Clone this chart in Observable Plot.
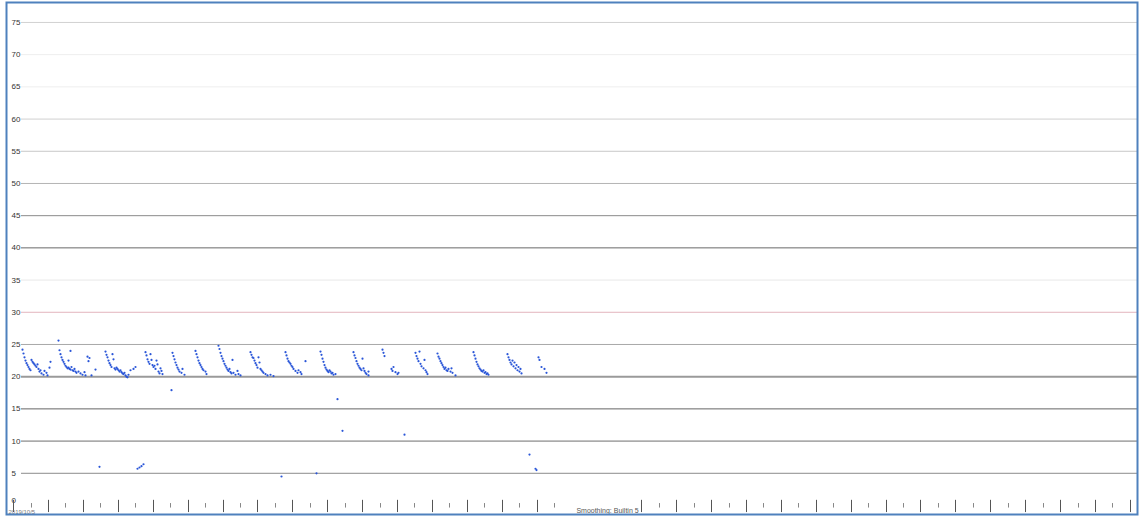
<!DOCTYPE html>
<html><head><meta charset="utf-8">
<script src="https://cdn.jsdelivr.net/npm/d3@7"></script>
<script src="https://cdn.jsdelivr.net/npm/@observablehq/plot@0.6"></script>
<style>body{margin:0;background:#fff;overflow:hidden}</style>
</head><body><div id="chart"></div>
<script>
// sample time (x, chart units) and reading value (y)
const readingX = [
 22,23,24,25,26,27,28,29,30,31,32,33,34,35,36,37,38,39,40,41,43,44,46,47,49,50,
 58,59,60,61,62,63,64,65,66,67,68,68,69,70,70,71,72,73,74,75,76,78,80,82,84,85,87,88,89,91,95,
 105,106,107,108,109,110,111,112,113,114,115,116,117,118,119,120,121,122,123,124,125,126,127,128,130,133,135,
 145,146,147,148,149,150,151,152,153,154,155,156,157,158,159,160,161,162,
 172,173,174,175,176,177,178,179,181,182,184,
 195,196,197,198,199,200,201,202,203,205,206,
 218,219,220,221,222,223,224,225,226,227,228,229,230,231,232,233,235,237,238,240,
 250,251,252,253,254,255,256,257,258,259,260,261,262,263,265,267,270,273,
 285,286,287,288,289,290,291,292,293,295,297,298,300,301,305,
 320,321,322,323,324,325,326,327,328,329,330,331,332,333,335,
 353,354,355,356,357,358,359,360,361,362,363,364,365,366,368,368,
 382,383,384,391,392,393,395,397,398,
 415,416,417,418,419,420,421,423,424,425,426,427,
 437,438,439,440,441,442,443,444,445,446,447,448,450,451,452,455,
 473,474,475,476,477,478,479,480,481,482,483,484,485,486,487,488,
 507,508,509,510,511,512,513,514,515,516,517,518,519,520,521,
 538,539,541,544,546,
 99,137,139,141,143,171,281,316,337,342,404,529,535,536
];
const readingY = [
 24.2,23.6,23.0,22.5,22.1,21.8,21.5,21.2,21.0,22.6,22.3,22.1,21.9,21.7,21.5,21.9,21.2,20.8,21.0,20.5,20.3,20.9,20.6,20.2,21.4,22.3,
 25.6,24.1,23.5,23.0,22.6,22.3,22.0,21.7,21.5,21.3,21.4,22.5,21.2,21.1,24.0,21.5,21.0,20.9,21.2,20.8,20.6,20.8,20.5,20.3,20.7,20.2,23.1,22.4,22.9,20.2,21.1,
 23.9,23.4,23.0,22.5,22.1,21.8,21.5,23.5,22.7,21.3,21.1,21.4,21.2,21.0,20.8,21.0,20.7,20.5,20.4,20.6,20.2,20.0,19.9,20.3,21.0,21.2,21.5,
 23.8,23.3,22.7,22.3,22.0,23.5,22.6,21.8,21.5,21.7,21.2,22.5,21.9,20.8,20.5,21.3,20.9,20.4,
 23.7,23.2,22.7,22.2,21.8,21.4,21.1,20.8,20.6,21.2,20.3,
 24.0,23.5,23.0,22.5,22.1,21.8,21.5,21.2,21.0,20.8,20.4,
 24.8,24.3,23.7,23.2,22.8,22.4,22.0,21.7,21.4,21.1,20.9,21.2,20.7,20.5,22.6,20.6,20.3,20.9,20.4,20.2,
 23.8,23.4,23.0,22.9,22.5,22.1,21.8,21.4,23.0,22.2,21.2,21.0,20.8,20.6,20.4,20.2,20.3,20.1,
 23.8,23.3,22.8,22.4,22.2,22.0,21.7,21.5,21.2,20.9,20.6,21.0,20.7,20.4,22.4,
 23.9,23.4,22.8,22.3,21.8,21.4,21.1,20.9,20.7,21.0,20.8,20.5,20.6,20.3,20.4,
 23.8,23.3,22.9,22.4,22.0,21.7,21.4,21.2,21.0,22.8,21.3,20.9,20.6,20.4,20.8,20.2,
 24.2,23.7,23.2,21.2,20.9,21.5,20.7,20.4,20.6,
 23.7,23.2,22.8,22.4,23.9,22.0,21.6,21.3,22.6,21.0,20.7,20.4,
 23.6,23.1,22.8,22.4,22.1,21.8,21.5,21.2,21.4,21.0,20.9,21.2,20.8,21.3,20.6,20.2,
 23.8,23.3,22.8,22.3,21.9,21.6,21.3,21.1,20.9,20.8,21.0,20.6,20.7,20.4,20.5,20.3,
 23.5,23.0,22.6,22.2,21.9,22.5,21.6,22.2,21.3,21.8,21.0,21.5,20.8,21.2,20.5,
 23.0,22.6,21.5,21.2,20.6,
 6.0,5.7,5.9,6.1,6.4,17.9,4.5,5.0,16.5,11.6,11.0,7.9,5.7,5.5
];

const gridValues = [0,5,10,15,20,25,30,35,40,45,50,55,60,65,70,75];
const gridColors = ["#ffffff","#8c8c8c","#6e6e6e","#666666","#9a9a9a","#a8a8a8","#e3b4bd","#e8e8e8","#6a6a6a","#8a8a8a","#b4b4b4","#c8c8c8","#d0d0d0","#eeeeee","#eeeeee","#d2d2d2"];
const gridWidths = [1,1,1,1,2,1,1,1,1,1,1,1,1,1,1,1];

const tickPositions = [13,31,48,65,83,100,118,135,153,170,188,205,223,240,257,275,292,310,327,345,362,380,397,414,432,449,467,484,502,519,537,554,641,659,676,694,711,729,746,763,781,798,816,833,851,868,886,903,920,938,955,973,990,1008,1025,1043,1060,1078,1095,1112,1130];
const tickMajor = [1,0,1,0,1,0,1,0,1,0,1,0,1,0,1,0,1,0,1,0,1,0,1,0,1,0,1,0,1,0,1,0,1,0,1,0,1,0,1,0,1,0,1,0,1,0,1,0,1,0,1,0,1,0,1,0,1,0,1,0,1];

const dateLabel = "2019/10/5";
const smoothingLabel = "Smoothing: Builtin 5";

const readings = readingX.map((x, i) => ({x, y: readingY[i]}));
const grid = gridValues.map((v, i) => ({v, color: gridColors[i], w: gridWidths[i]}));
const ticks = tickPositions.map((p, i) => ({p, major: tickMajor[i] === 1}));

const font = "Liberation Sans, Arial, sans-serif";
const chart = Plot.plot({
  width: 1139, height: 516,
  marginLeft: 6, marginRight: 2, marginTop: 2, marginBottom: 2,
  x: {domain: [6, 1137], axis: null},
  y: {domain: [-1.4, 78.1], axis: null},
  style: {fontFamily: font, background: "#fff"},
  marks: [
    ...grid.filter(g => g.v > 0).map(g =>
      Plot.ruleY([g.v], {x1: 21, x2: 1137, stroke: g.color, strokeWidth: g.w})),
    Plot.text(grid.filter(g => g.v > 0), {x: 11, y: "v", text: d => String(d.v), textAnchor: "start", fontSize: 8, fill: "#333"}),
    Plot.text(grid.filter(g => g.v === 0), {x: 11, y: "v", dy: -5, text: d => String(d.v), textAnchor: "start", fontSize: 8, fill: "#333"}),
    Plot.ruleX(ticks.filter(t => t.major), {x: "p", y1: -1.1, y2: 0.8, stroke: "#555", strokeWidth: 1}),
    Plot.ruleX(ticks.filter(t => !t.major), {x: "p", y1: -0.4, y2: 0.3, stroke: "#888", strokeWidth: 1}),
    Plot.dot(readings, {x: "x", y: "y", r: 1.1, fill: "#2a56d8", stroke: "none"}),
    Plot.text([dateLabel], {x: 8, y: -1.0, text: d => d, textAnchor: "start", fontSize: 6, fill: "#777"}),
    Plot.text([smoothingLabel], {x: 607, y: -0.8, text: d => d, textAnchor: "middle", fontSize: 7, fill: "#555"}),
    Plot.frame({stroke: "#4f81bd", strokeWidth: 2})
  ]
});
document.getElementById("chart").append(chart);
</script>
</body></html>
